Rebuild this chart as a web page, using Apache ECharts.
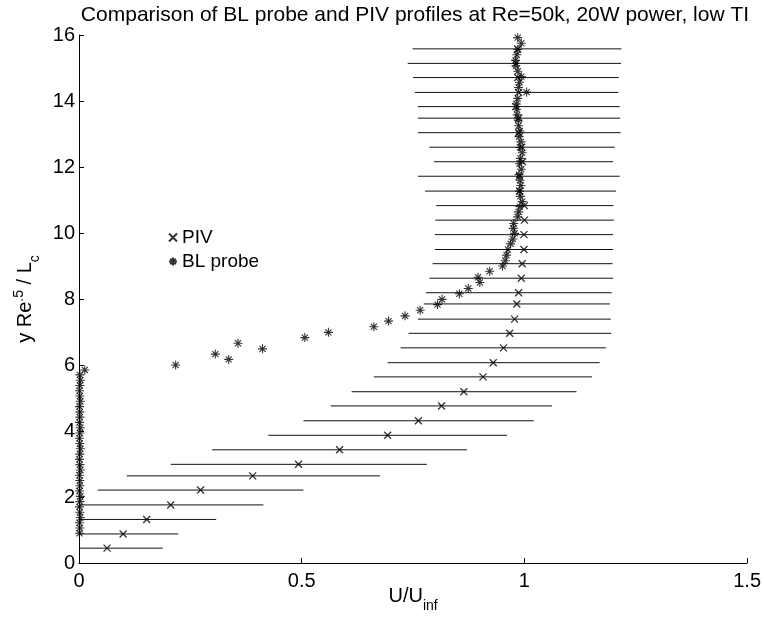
<!DOCTYPE html>
<html>
<head>
<meta charset="utf-8">
<script src="https://cdn.jsdelivr.net/npm/echarts@6/dist/echarts.min.js"></script>
<style>html,body{margin:0;padding:0;background:#fff}#c{width:764px;height:625px}</style>
</head>
<body>
<div id="c"></div>
<script>
// PIV profile: height, mean velocity, error-bar low, error-bar high
var pivY = [0.45,0.88,1.32,1.76,2.21,2.64,2.99,3.43,3.87,4.31,4.76,5.19,5.64,6.07,6.52,6.96,7.39,7.85,8.19,8.63,9.07,9.50,9.95,10.39,10.83,11.27,11.72,12.16,12.60,13.04,13.48,13.83,14.26,14.71,15.14,15.58];
var pivU = [0.063,0.099,0.152,0.206,0.273,0.390,0.493,0.585,0.693,0.762,0.814,0.864,0.907,0.930,0.953,0.967,0.978,0.983,0.987,0.993,0.995,0.999,0.999,1.000,1.000,0.989,0.989,0.996,0.994,0.987,0.987,0.981,0.987,0.985,0.981,0.985];
var pivLo = [0,0,0,0,0.042,0.107,0.206,0.299,0.425,0.504,0.565,0.612,0.662,0.693,0.722,0.740,0.761,0.774,0.779,0.787,0.794,0.799,0.799,0.800,0.802,0.777,0.761,0.797,0.787,0.761,0.761,0.761,0.754,0.750,0.738,0.749];
var pivHi = [0.188,0.223,0.308,0.414,0.504,0.676,0.781,0.871,0.961,1.021,1.062,1.117,1.152,1.169,1.183,1.195,1.194,1.192,1.196,1.199,1.198,1.199,1.199,1.201,1.200,1.206,1.214,1.199,1.203,1.216,1.215,1.214,1.211,1.212,1.217,1.218];

// BL probe profile
var blU = [0.001,0.002,0.001,0.003,0.002,0.001,0.002,0.003,0.001,0.002,0.002,0.001,0.003,0.002,0.001,0.002,0.003,0.002,0.001,0.002,0.003,0.001,0.002,0.002,0.001,0.003,0.002,0.001,0.002,0.003,0.002,
 0.013,0.217,0.306,0.336,0.357,0.412,0.507,0.560,0.662,0.695,0.732,0.766,0.805,0.815,0.854,0.874,0.900,0.896,0.922,0.951,0.957,0.960,0.963,0.969,0.974,0.978,0.975,0.976,0.985,0.987,0.990,0.995,
 0.991,0.989,0.992,0.990,0.988,0.993,0.989,0.991,0.995,0.990,0.992,0.988,0.990,0.987,0.986,0.984,0.983,0.982,0.985,1.005,0.987,0.989,0.993,0.985,0.981,0.980,0.983,0.985,0.993,0.985];
var blY = [0.9,1.06,1.22,1.38,1.54,1.7,1.86,2.02,2.18,2.34,2.5,2.66,2.82,2.98,3.14,3.3,3.46,3.62,3.78,3.94,4.1,4.26,4.42,4.58,4.74,4.9,5.06,5.22,5.38,5.54,5.7,
 5.85,6.0,6.33,6.17,6.66,6.49,6.83,6.99,7.16,7.33,7.49,7.66,7.83,7.99,8.16,8.32,8.5,8.66,8.84,9.0,9.16,9.33,9.5,9.67,9.82,9.99,10.14,10.29,10.49,10.64,10.8,10.95,
 11.11,11.27,11.44,11.6,11.77,11.93,12.1,12.26,12.43,12.59,12.76,12.92,13.09,13.25,13.42,13.58,13.75,13.91,14.08,14.27,14.41,14.57,14.74,14.9,15.07,15.23,15.4,15.56,15.75,15.92];

var xTicks = [0, 0.5, 1, 1.5];
var yTicks = [0, 2, 4, 6, 8, 10, 12, 14, 16];

var pivPts = pivY.map(function (y, i) { return [pivU[i], y]; });
var barPts = pivY.map(function (y, i) { return [pivLo[i], pivHi[i], y]; });
var blPts = blY.map(function (y, i) { return [blU[i], y]; });

var FONT = '"Liberation Sans", Arial, Helvetica, sans-serif';
var chart = echarts.init(document.getElementById('c'), null, {renderer: 'canvas'});
chart.setOption({
  animation: false,
  backgroundColor: '#fff',
  title: {
    text: 'Comparison of BL probe and PIV profiles at Re=50k, 20W power, low TI',
    left: 410, top: 0, textAlign: 'center',
    textStyle: {fontFamily: FONT, fontSize: 21, fontWeight: 'normal', color: '#000'}
  },
  legend: {
    orient: 'vertical', left: 163, top: 223, itemGap: 5,
    itemWidth: 8, itemHeight: 8,
    textStyle: {fontFamily: FONT, fontSize: 19, color: '#000'},
    data: ['PIV', 'BL probe']
  },
  grid: {left: 79, right: 16, top: 35, bottom: 62, containLabel: false},
  xAxis: {
    type: 'value', min: xTicks[0], max: xTicks[xTicks.length - 1], interval: 0.5,
    splitLine: {show: false},
    axisLine: {lineStyle: {color: '#000', width: 1}},
    axisTick: {inside: true, length: 5, lineStyle: {color: '#000'}},
    axisLabel: {fontFamily: FONT, fontSize: 20, color: '#000', margin: 8},
    name: '{n|U/U}{s|inf}', nameLocation: 'middle', nameGap: 23, nameMoveOverlap: false,
    nameTextStyle: {
      rich: {
        n: {fontFamily: FONT, fontSize: 20, color: '#000', verticalAlign: 'bottom', padding: [0, 0, 7, 0]},
        s: {fontFamily: FONT, fontSize: 14, color: '#000', verticalAlign: 'bottom', padding: [0, 0, 0, 0]}
      }
    }
  },
  yAxis: {
    type: 'value', min: yTicks[0], max: yTicks[yTicks.length - 1], interval: 2,
    splitLine: {show: false},
    axisLine: {lineStyle: {color: '#000', width: 1}},
    axisTick: {inside: true, length: 5, lineStyle: {color: '#000'}},
    axisLabel: {fontFamily: FONT, fontSize: 20, color: '#000', margin: 4},
    name: '{n|y Re}{p|.5}{n| / L}{s|c}', nameLocation: 'middle', nameGap: 33, nameRotate: 90,
    nameTextStyle: {
      rich: {
        n: {fontFamily: FONT, fontSize: 20, color: '#000', verticalAlign: 'bottom', padding: [0, 0, 6, 0]},
        p: {fontFamily: FONT, fontSize: 14, color: '#000', verticalAlign: 'bottom', padding: [0, 0, 16, 0]},
        s: {fontFamily: FONT, fontSize: 14, color: '#000', verticalAlign: 'bottom', padding: [0, 0, 0, 0]}
      }
    }
  },
  series: [
    {
      name: 'PIV error', type: 'custom', data: barPts,
      encode: {x: [0, 1], y: 2},
      renderItem: function (params, api) {
        var a = api.coord([api.value(0), api.value(2)]);
        var b = api.coord([api.value(1), api.value(2)]);
        return {type: 'line', shape: {x1: a[0], y1: a[1], x2: b[0], y2: b[1]},
          style: {stroke: '#111', lineWidth: 1}};
      },
      silent: true, z: 1
    },
    {
      name: 'PIV', type: 'scatter', data: pivPts,
      symbol: 'path://M0,0L10,10M10,0L0,10', symbolSize: 7,
      itemStyle: {color: 'rgba(0,0,0,0)', borderColor: '#000', borderWidth: 1.3},
      z: 3
    },
    {
      name: 'BL probe', type: 'scatter', data: blPts,
      symbol: 'path://M5,0L5,10M0,5L10,5M1.6,1.6L8.4,8.4M8.4,1.6L1.6,8.4', symbolSize: 9,
      itemStyle: {color: 'rgba(0,0,0,0)', borderColor: '#000', borderWidth: 1.1},
      z: 4
    }
  ]
});
</script>
</body>
</html>
